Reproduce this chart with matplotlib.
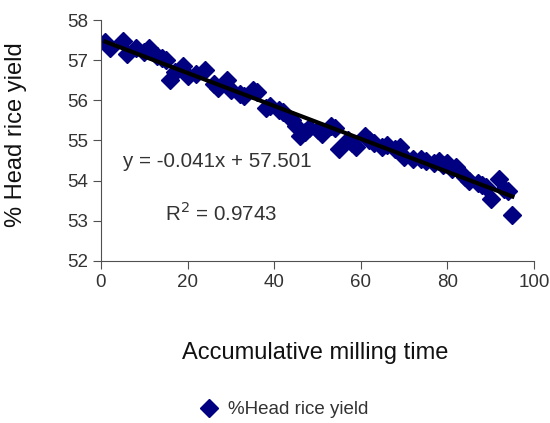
import numpy as np
import matplotlib.pyplot as plt

plt.rcParams['font.family'] = ['Liberation Sans', 'DejaVu Sans']

# accumulative milling time vs % head rice yield
milling_time = [1, 2, 5, 6, 8, 10, 11, 13, 14, 15, 16, 17, 19, 20, 22, 24,
                26, 27, 29, 30, 32, 33, 35, 36, 38, 39, 41, 42, 44, 45, 46, 47,
                48, 50, 51, 53, 54, 55, 57, 58, 59, 61, 62, 63, 65, 66, 68, 69,
                70, 72, 74, 75, 77, 78, 79, 80, 81, 82, 84, 85, 87, 88, 89, 90,
                92, 93, 94, 95]
head_rice = [57.45, 57.3, 57.48, 57.15, 57.3, 57.2, 57.3, 57.1, 57.05, 57.0,
             56.5, 56.7, 56.85, 56.6, 56.65, 56.75, 56.4, 56.3, 56.5, 56.25,
             56.15, 56.1, 56.25, 56.2, 55.8, 55.85, 55.75, 55.7, 55.5, 55.35,
             55.1, 55.2, 55.3, 55.25, 55.15, 55.35, 55.3, 54.8, 55.0, 54.95,
             54.85, 55.1, 55.0, 54.95, 54.85, 54.9, 54.8, 54.85, 54.6, 54.55,
             54.55, 54.5, 54.45, 54.5, 54.4, 54.45, 54.3, 54.35, 54.1, 54.0,
             53.95, 53.9, 53.85, 53.55, 54.05, 53.8, 53.75, 53.15]

slope = -0.041
intercept = 57.501

fig = plt.figure(figsize=(5.5, 4.23), dpi=100)
ax = fig.add_axes([0.1836, 0.383, 0.7874, 0.5697])

ax.plot(milling_time, head_rice, 'D', color='#000080', markersize=9,
        label='%Head rice yield', zorder=2)
xl = np.array([milling_time[0], milling_time[-1]])
ax.plot(xl, slope * xl + intercept, color='black', linewidth=3, zorder=3)

ax.set_xlim(0, 100)
ax.set_ylim(52, 58)
ax.set_xticks(range(0, 101, 20))
ax.set_yticks(range(52, 59))
ax.spines['top'].set_visible(False)
ax.spines['right'].set_visible(False)
for s in ['left', 'bottom']:
    ax.spines[s].set_color('#505050')
ax.tick_params(colors='#505050', labelcolor='#333333', labelsize=13.5, length=6)
ax.set_xlabel('Accumulative milling time', fontsize=17, color='#111111')
ax.set_ylabel('% Head rice yield', fontsize=17, color='#111111')
ax.xaxis.set_label_coords(0.494, -0.335)
ax.yaxis.set_label_coords(-0.171, 0.523)

ax.text(5.1, 54.47, 'y = -0.041x + 57.501', fontsize=14.8, color='#333333', va='center')
ax.text(14.8, 53.2, r'R$^{2}$ = 0.9743', fontsize=14.8, color='#333333', va='center')

fig.legend(loc='center', bbox_to_anchor=(0.516, 0.031), frameon=False, fontsize=13.5,
           handlelength=1.0, handletextpad=0.5, labelcolor='#333333')

fig.savefig('out.png', dpi=100)
